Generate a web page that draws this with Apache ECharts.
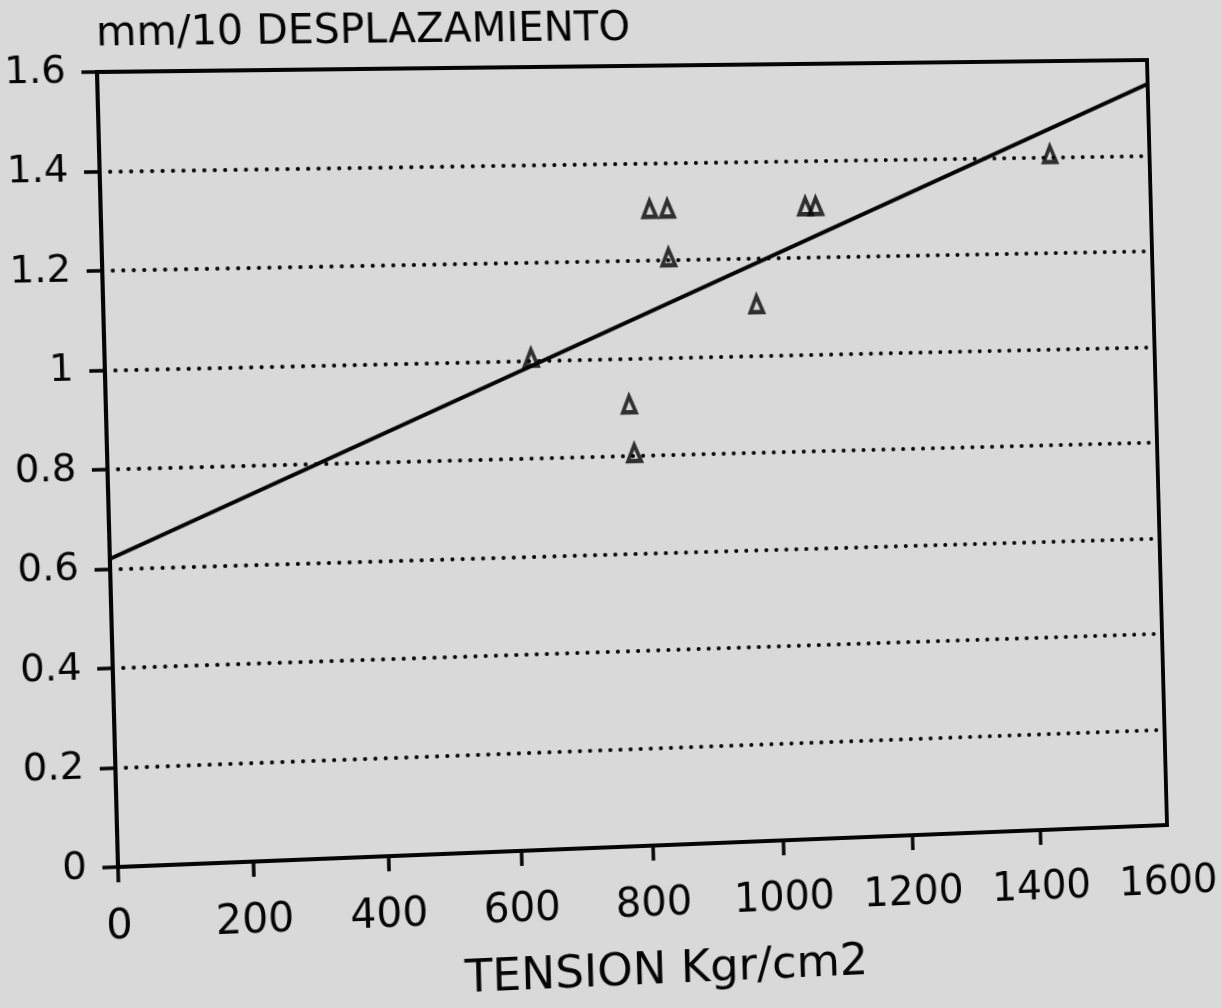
<!DOCTYPE html>
<html>
<head>
<meta charset="utf-8">
<script src="https://cdn.jsdelivr.net/npm/echarts@6/dist/echarts.min.js"></script>
<style>
  html, body { margin: 0; padding: 0; background: #d9d9d9; overflow: hidden; }
  #chart { position: absolute; left: 0; top: 0; width: 1222px; height: 1008px; transform-origin: 0 0; }
</style>
</head>
<body>
<div id="chart"></div>
<script>
// Measured readings: tension (Kgr/cm2) and displacement (mm/10)
const tension      = [635, 821, 848, 848, 981, 1060, 1076, 782, 788, 1443];
const displacement = [1.0, 1.3, 1.3, 1.2, 1.1, 1.3,  1.3,  0.9, 0.8, 1.4];

// Fitted straight line, given by its two end points
const fitTension      = [0, 1600];
const fitDisplacement = [0.62, 1.55];

// Axis ticks
const xLabels = [0, 200, 400, 600, 800, 1000, 1200, 1400, 1600];
const xTickMarks = [0, 200, 400, 600, 800, 1000, 1200, 1400];
const yLabels = [0, 0.2, 0.4, 0.6, 0.8, 1, 1.2, 1.4, 1.6];

const INK = '#050505';
const FONT = 'DejaVu Sans';

const points = tension.map((t, i) => [t, displacement[i]]);
const fitLine = fitTension.map((t, i) => [t, fitDisplacement[i]]);

const chart = echarts.init(document.getElementById('chart'), null, { renderer: 'canvas' });

chart.setOption({
  backgroundColor: 'transparent',
  animation: false,
  grid: {
    left: 108, top: 66, width: 1049, height: 780,
    containLabel: false,
    outerBoundsMode: 'none',
    show: true,
    borderColor: INK,
    borderWidth: 4,
    backgroundColor: 'transparent'
  },
  xAxis: {
    type: 'value',
    min: xLabels[0],
    max: xLabels[xLabels.length - 1],
    interval: 200,
    name: 'TENSION Kgr/cm2',
    nameLocation: 'middle',
    nameGap: 104,
    nameMoveOverlap: false,
    nameTextStyle: { fontFamily: FONT, fontSize: 45, color: INK, padding: [0, 0, 0, 24] },
    axisLine: { show: true, lineStyle: { color: INK, width: 4 } },
    axisTick: { show: true, inside: false, length: 15, lineStyle: { color: INK, width: 3.5 }, customValues: xTickMarks },
    axisLabel: {
      margin: 40, fontFamily: FONT, fontSize: 40, color: INK, customValues: xLabels,
      formatter: v => String(v)
    },
    splitLine: { show: false }
  },
  yAxis: {
    type: 'value',
    min: yLabels[0],
    max: yLabels[yLabels.length - 1],
    interval: 0.2,
    name: 'mm/10 DESPLAZAMIENTO',
    nameLocation: 'end',
    nameGap: 36,
    nameMoveOverlap: false,
    nameTextStyle: { fontFamily: FONT, fontSize: 40, color: INK, align: 'left', verticalAlign: 'middle' },
    axisLine: { show: true, lineStyle: { color: INK, width: 4 } },
    axisTick: { show: true, inside: false, length: 15, lineStyle: { color: INK, width: 3.5 } },
    axisLabel: {
      margin: 30, fontFamily: FONT, fontSize: 37, color: INK, padding: [12, 0, 0, 0],
      customValues: yLabels,
      formatter: v => String(Math.round(v * 10) / 10)
    },
    splitLine: {
      show: true,
      lineStyle: { color: INK, width: 4, type: [0.1, 10], cap: 'round' }
    }
  },
  series: [
    {
      name: 'Ajuste',
      type: 'line',
      data: fitLine,
      showSymbol: false,
      lineStyle: { color: INK, width: 4 },
      z: 3
    },
    {
      name: 'Ensayos',
      type: 'scatter',
      data: points,
      symbol: 'triangle',
      symbolSize: [13, 16],
      symbolOffset: [0, -3],
      itemStyle: { color: 'transparent', borderColor: INK, borderWidth: 4 },
      z: 4
    }
  ]
});

// Photographed sheet: map the flat plot rectangle onto the tilted frame.
function solveLinear(A, b) {
  const n = b.length;
  const M = A.map((row, i) => row.concat([b[i]]));
  for (let c = 0; c < n; c++) {
    let p = c;
    for (let r = c + 1; r < n; r++) if (Math.abs(M[r][c]) > Math.abs(M[p][c])) p = r;
    [M[c], M[p]] = [M[p], M[c]];
    for (let r = 0; r < n; r++) {
      if (r === c) continue;
      const f = M[r][c] / M[c][c];
      for (let k = c; k <= n; k++) M[r][k] -= f * M[c][k];
    }
  }
  return M.map((row, i) => row[n] / row[i]);
}
function homography(src, dst) {
  const A = [], B = [];
  for (let i = 0; i < 4; i++) {
    const [x, y] = src[i], [u, v] = dst[i];
    A.push([x, y, 1, 0, 0, 0, -x * u, -y * u]); B.push(u);
    A.push([0, 0, 0, x, y, 1, -x * v, -y * v]); B.push(v);
  }
  const h = solveLinear(A, B);
  return 'matrix3d(' + [h[0], h[3], 0, h[6], h[1], h[4], 0, h[7], 0, 0, 1, 0, h[2], h[5], 0, 1].join(',') + ')';
}
const flat = [[108, 66], [1157, 66], [1157, 846], [108, 846]];
const tilted = [[97, 72], [1147, 60], [1167, 825], [118, 867]];
document.getElementById('chart').style.transform = homography(flat, tilted);
</script>
</body>
</html>
